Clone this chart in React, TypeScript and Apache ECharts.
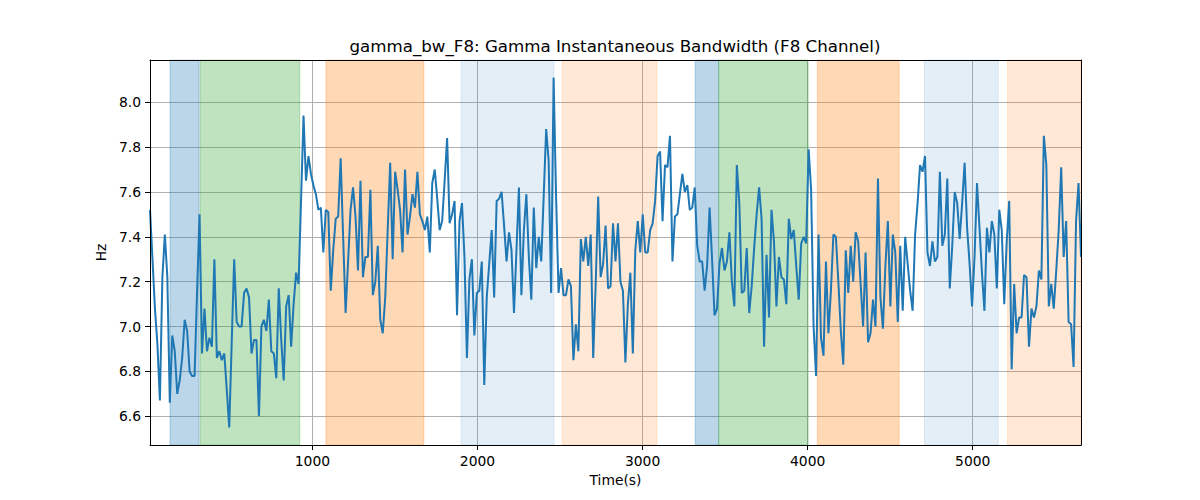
import React, { useEffect, useRef } from "react";
import * as echarts from "echarts";

const titleText = "gamma_bw_F8: Gamma Instantaneous Bandwidth (F8 Channel)";
const xName = "Time(s)";
const yName = "Hz";

const timeStart = 16;
const timeStep = 15;

const hzValues: number[] = [
  7.52, 7.30, 7.08, 6.92, 6.67, 7.22, 7.41, 7.22, 6.66, 6.96, 6.89, 6.70, 6.76, 6.86, 7.03, 6.98, 6.80, 6.78, 6.78, 7.15,
  7.50, 6.88, 7.08, 6.89, 6.95, 6.91, 7.30, 6.86, 6.89, 6.85, 6.88, 6.72, 6.55, 6.93, 7.30, 7.02, 7.00, 7.00, 7.15, 7.17,
  7.13, 6.88, 6.94, 6.94,
  6.60, 7.00, 7.03, 6.98, 7.12, 6.89, 6.88, 6.77, 7.17, 6.94, 6.76, 7.09, 7.14, 6.91, 7.10, 7.24, 7.19, 7.56, 7.94, 7.65,
  7.76, 7.68, 7.63, 7.59, 7.52, 7.53, 7.33, 7.52, 7.51, 7.16, 7.34, 7.48, 7.49, 7.75, 7.40, 7.06, 7.29, 7.52, 7.62, 7.49,
  7.25, 7.65, 7.22, 7.31, 7.31, 7.61, 7.14, 7.20, 7.36, 7.03, 6.97, 7.13, 7.43, 7.73, 7.30, 7.69, 7.61, 7.52, 7.33, 7.70,
  7.41, 7.49, 7.59, 7.53, 7.69, 7.50, 7.47, 7.43, 7.49, 7.33, 7.64, 7.70, 7.57, 7.43, 7.47, 7.65, 7.84, 7.46, 7.50, 7.56,
  7.05,
  7.47, 7.55, 7.31, 6.86, 7.21, 7.30, 6.96, 7.15, 7.16, 7.29, 6.74, 7.13, 7.28, 7.43, 7.13, 7.56, 7.57, 7.60, 7.45, 7.29,
  7.42, 7.34, 7.06, 7.34, 7.62, 7.14, 7.43, 7.59, 7.31, 7.12, 7.53, 7.26, 7.40, 7.29, 7.58, 7.88, 7.74, 7.15, 8.11, 7.58,
  7.15, 7.26, 7.14, 7.14, 7.21, 7.18, 6.85, 7.01, 6.89, 7.39, 7.29, 7.40, 7.27, 7.41, 6.86, 7.19, 7.58, 7.22, 7.28, 7.45,
  7.17, 7.18, 7.46, 7.29, 7.46, 7.20, 7.16, 6.84, 7.10, 7.24, 6.88, 7.34, 7.47, 7.33, 7.50, 7.33, 7.33, 7.43, 7.46, 7.56,
  7.76, 7.78, 7.47, 7.72, 7.71, 7.85, 7.29, 7.49, 7.50, 7.59, 7.68, 7.60, 7.63, 7.52, 7.53, 7.62, 7.36, 7.29, 7.29, 7.16,
  7.27, 7.53, 7.30, 7.05, 7.08, 7.28, 7.35, 7.25, 7.29, 7.42, 7.20, 7.09, 7.72, 7.55, 7.15, 7.16, 7.35, 7.06, 7.18, 7.35,
  7.50, 7.62,
  7.48, 6.91, 7.32, 7.04, 7.52, 7.38, 7.09, 7.31, 7.22, 7.21, 7.10, 7.48, 7.39, 7.43, 7.27, 7.12, 7.37, 7.40, 7.37, 7.79,
  7.61, 7.00, 6.78, 7.41, 6.95, 6.87, 7.29, 6.97, 7.16, 7.41, 7.40, 7.20, 6.98, 6.83, 7.34, 7.15, 7.36, 7.20, 7.42, 7.38,
  7.19, 7.00, 7.33, 6.93, 6.97, 7.12, 7.00, 7.66, 7.13, 6.99, 7.27, 7.47, 7.09, 7.41, 7.33, 7.02, 7.36, 7.07, 7.40, 7.28,
  7.16, 7.07, 7.41, 7.55, 7.72, 7.69, 7.76, 7.33, 7.27, 7.38, 7.29, 7.31, 7.69, 7.36, 7.41, 7.66, 7.17, 7.36, 7.60, 7.55,
  7.39, 7.55, 7.73, 7.44, 7.28, 7.09, 7.31, 7.64, 7.44, 7.24, 7.07, 7.44, 7.33, 7.47, 7.41, 7.17, 7.52, 7.43, 7.10, 7.38,
  7.56, 6.81, 7.19, 6.97, 7.04, 7.04, 7.23, 7.22, 6.91, 7.08, 7.04, 7.09, 7.25, 7.21, 7.85, 7.72, 7.09, 7.19, 7.08, 7.25,
  7.43, 7.71, 7.31, 7.47, 7.02, 7.01, 6.82, 7.47, 7.64, 7.31,
];

const bandStarts = [137, 319, 1082, 1901, 2513, 3319, 3461, 4059, 4708, 5211];
const bandEnds = [313, 923, 1675, 2463, 3087, 3461, 4003, 4554, 5155, 5656];
const bandKinds = ["blue", "green", "orange", "lightBlue", "lightOrange", "blue", "green", "orange", "lightBlue", "lightOrange"];

const xTicks = [1000, 2000, 3000, 4000, 5000];
const yTicks = [6.6, 6.8, 7.0, 7.2, 7.4, 7.6, 7.8, 8.0];
const yMin = 6.472;
const yMax = 8.188;

const bandFill: Record<string, string> = {
  blue: "rgba(31,119,180,0.3)",
  green: "rgba(44,160,44,0.3)",
  orange: "rgba(255,127,14,0.3)",
  lightBlue: "rgba(31,119,180,0.12)",
  lightOrange: "rgba(255,127,14,0.17)",
};

const FONT = "DejaVu Sans";

export default function App() {
  const ref = useRef<HTMLDivElement>(null);
  useEffect(() => {
    document.body.style.margin = "0";
    if (!ref.current) return;
    const chart = echarts.init(ref.current, undefined, { renderer: "svg" });
    const data = hzValues.map((v, i) => [timeStart + i * timeStep, v]);
    const xMin = timeStart;
    const xMax = timeStart + (hzValues.length - 1) * timeStep;
    const bands = bandStarts.map((s, i) => [
      {
        xAxis: s,
        itemStyle: {
          color: bandFill[bandKinds[i]],
          borderColor: bandFill[bandKinds[i]],
          borderWidth: 1,
        },
      },
      { xAxis: bandEnds[i] },
    ]);
    const baseX = { type: "value", min: xMin, max: xMax, gridIndex: 0 };
    const baseY = { type: "value", min: yMin, max: yMax, gridIndex: 0 };
    chart.setOption({
      animation: false,
      backgroundColor: "#ffffff",
      textStyle: { fontFamily: FONT },
      grid: { left: 150, right: 119, top: 60, bottom: 55, containLabel: false },
      graphic: [
        {
          type: "text",
          x: 615,
          y: 46,
          style: {
            text: titleText,
            font: `16.67px "${FONT}"`,
            fill: "#000",
            textAlign: "center",
            textVerticalAlign: "middle",
          },
        },
      ],
      xAxis: [
        {
          ...baseX,
          position: "bottom",
          z: 10,
          name: xName,
          nameLocation: "middle",
          nameGap: 27,
          nameTextStyle: { fontFamily: FONT, fontSize: 13.89, color: "#000" },
          axisLine: { show: true, onZero: false, lineStyle: { color: "#000", width: 1 } },
          axisTick: { show: true, length: 5, customValues: xTicks, lineStyle: { color: "#000", width: 1 } },
          axisLabel: {
            show: true,
            customValues: xTicks,
            margin: 9,
            fontFamily: FONT,
            fontSize: 13.89,
            color: "#000",
            formatter: (v: number) => String(v),
          },
          splitLine: { show: false },
        },
        {
          ...baseX,
          position: "top",
          z: 10,
          axisLine: { show: true, onZero: false, lineStyle: { color: "#000", width: 1 } },
          axisTick: { show: false },
          axisLabel: { show: false },
          splitLine: { show: false },
        },
        {
          ...baseX,
          position: "bottom",
          z: 0,
          axisLine: { show: false },
          axisTick: { show: false, customValues: xTicks },
          axisLabel: { show: false, customValues: xTicks },
          splitLine: { show: true, lineStyle: { color: "#b0b0b0", width: 1 } },
        },
      ],
      yAxis: [
        {
          ...baseY,
          position: "left",
          z: 10,
          name: yName,
          nameLocation: "middle",
          nameGap: 37,
          nameTextStyle: { fontFamily: FONT, fontSize: 13.89, color: "#000" },
          axisLine: { show: true, onZero: false, lineStyle: { color: "#000", width: 1 } },
          axisTick: { show: true, length: 5, customValues: yTicks, lineStyle: { color: "#000", width: 1 } },
          axisLabel: {
            show: true,
            customValues: yTicks,
            margin: 9,
            fontFamily: FONT,
            fontSize: 13.89,
            color: "#000",
            formatter: (v: number) => v.toFixed(1),
          },
          splitLine: { show: false },
        },
        {
          ...baseY,
          position: "right",
          z: 10,
          axisLine: { show: true, onZero: false, lineStyle: { color: "#000", width: 1 } },
          axisTick: { show: false },
          axisLabel: { show: false },
          splitLine: { show: false },
        },
        {
          ...baseY,
          position: "left",
          z: 0,
          axisLine: { show: false },
          axisTick: { show: false, customValues: yTicks },
          axisLabel: { show: false, customValues: yTicks },
          splitLine: { show: true, lineStyle: { color: "#b0b0b0", width: 1 } },
        },
      ],
      series: [
        {
          type: "line",
          name: "bands",
          xAxisIndex: 0,
          yAxisIndex: 0,
          data: [],
          z: 1,
          silent: true,
          markArea: { silent: true, data: bands },
        },
        {
          type: "line",
          name: "gamma_bw_F8",
          xAxisIndex: 0,
          yAxisIndex: 0,
          data,
          z: 3,
          showSymbol: false,
          symbol: "none",
          lineStyle: { color: "#1f77b4", width: 2 },
          itemStyle: { color: "#1f77b4" },
        },
      ],
    });
    return () => chart.dispose();
  }, []);
  return <div ref={ref} style={{ width: 1200, height: 500 }} />;
}
